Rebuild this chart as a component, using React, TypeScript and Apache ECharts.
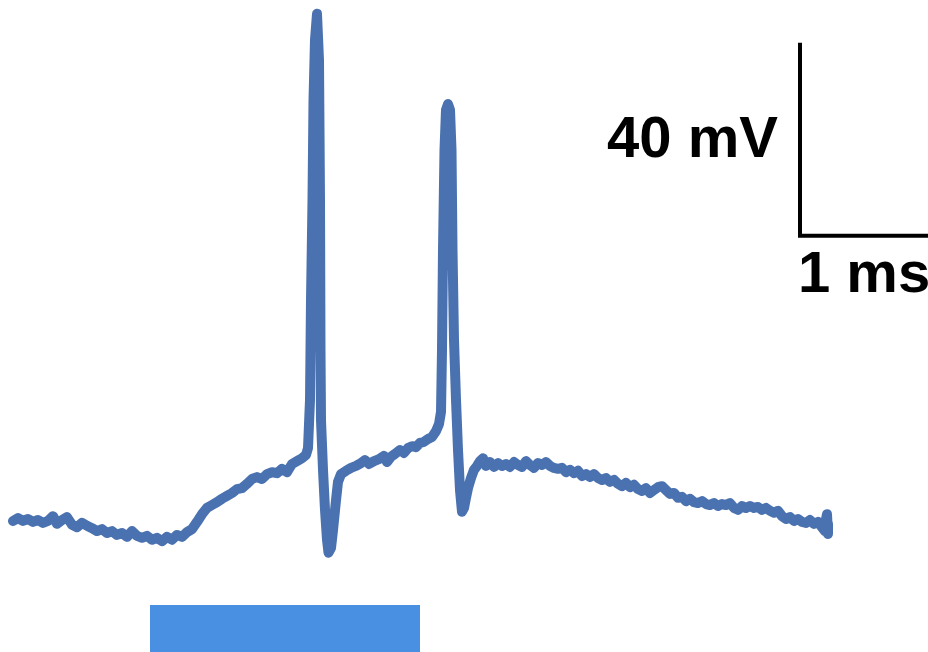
import React, { useEffect, useRef } from "react";
import * as echarts from "echarts";

// Membrane potential trace: time (ms) and voltage (mV)
const timeMs: number[] = [
  0.065, 0.09, 0.115, 0.14, 0.165, 0.19, 0.215, 0.24, 0.265, 0.285, 0.31, 0.335, 0.36, 0.385, 0.41, 0.435,
  0.46, 0.485, 0.51, 0.535, 0.56, 0.585, 0.61, 0.635, 0.66, 0.685, 0.71, 0.735, 0.76, 0.785, 0.81, 0.835,
  0.86, 0.885, 0.91, 0.935, 0.96, 0.985,
  1.01, 1.035, 1.06, 1.085, 1.11, 1.135, 1.16, 1.185, 1.21, 1.235, 1.26, 1.285, 1.31, 1.335, 1.36, 1.385,
  1.41, 1.435, 1.46, 1.485, 1.51, 1.53,
  1.54, 1.55, 1.555, 1.5625, 1.5675, 1.575, 1.585, 1.595, 1.6, 1.6025, 1.605, 1.615, 1.625, 1.635, 1.6425,
  1.655, 1.665, 1.68, 1.69, 1.705,
  1.73, 1.755, 1.78, 1.805, 1.825, 1.845, 1.87, 1.895, 1.92, 1.935, 1.955, 1.975, 2.0, 2.02, 2.04, 2.06,
  2.08, 2.1, 2.12, 2.14, 2.16, 2.18, 2.195,
  2.205, 2.21, 2.215, 2.2225, 2.23, 2.24, 2.25, 2.2575, 2.2625, 2.27, 2.28, 2.29, 2.3, 2.31, 2.32, 2.33,
  2.34, 2.355, 2.37, 2.385, 2.4,
  2.415, 2.43, 2.45, 2.47, 2.49, 2.51, 2.53, 2.55, 2.57, 2.59, 2.61, 2.63, 2.65, 2.67, 2.69, 2.71, 2.73,
  2.75, 2.77, 2.79, 2.81, 2.83, 2.85, 2.87, 2.89, 2.91, 2.93, 2.95, 2.97, 2.99, 3.01, 3.03, 3.05, 3.07,
  3.09, 3.11, 3.13, 3.15, 3.17, 3.19, 3.21, 3.23, 3.25, 3.27, 3.29, 3.31, 3.33, 3.35, 3.37, 3.39, 3.41,
  3.43, 3.45, 3.47, 3.49, 3.51, 3.53, 3.55, 3.57, 3.59, 3.61, 3.63, 3.65, 3.67, 3.69, 3.71, 3.73, 3.75,
  3.77, 3.79, 3.81, 3.83, 3.85, 3.87, 3.89, 3.91, 3.93, 3.95, 3.97, 3.99, 4.01, 4.03, 4.05, 4.07, 4.09,
  4.11, 4.125, 4.13, 4.135, 4.14, 4.14,
];

const voltageMv: number[] = [
  -65.2, -64.6, -65.2, -64.8, -65.4, -65.0, -65.6, -65.2, -64.2, -65.8, -65.0, -64.4, -66.0, -66.5, -65.6, -66.2,
  -66.7, -67.3, -66.9, -67.7, -67.3, -68.1, -67.7, -68.5, -67.3, -68.3, -68.7, -68.3, -69.1, -68.7, -69.4, -68.5,
  -69.1, -68.1, -68.5, -67.5, -66.9, -65.4,
  -63.8, -62.5, -61.9, -61.3, -60.6, -60.0, -59.4, -58.6, -58.4, -57.5, -56.5, -56.1, -56.5, -55.5, -55.1, -55.3,
  -54.4, -55.1, -53.4, -52.8, -52.2, -51.5,
  -50.1, -40.1, -19.4, 1.3, 22.0, 34.5, 39.9, 30.3, 1.3, -29.8, -44.3, -54.6, -62.9, -69.1, -71.8,
  -70.8, -67.1, -60.9, -57.1, -55.5,
  -54.8, -54.2, -53.8, -53.2, -52.6, -53.4, -52.8, -52.4, -51.7, -53.0, -51.9, -51.3, -50.5, -51.1, -50.1, -49.7,
  -49.9, -49.0, -48.8, -48.2, -47.8, -46.6, -45.1,
  -42.6, -29.8, -9.0, 11.7, 20.0, 21.2, 20.0, 11.7, -9.0, -27.7, -40.1, -50.5, -58.8, -63.3, -62.5, -60.4,
  -58.4, -56.3, -54.6, -53.8, -52.8,
  -52.2, -53.8, -53.0, -54.0, -53.2, -53.8, -53.4, -54.0, -53.0, -53.6, -54.0, -52.8, -53.6, -54.2, -53.2, -53.6, -53.0,
  -53.8, -54.2, -54.4, -54.2, -55.1, -54.6, -55.3, -54.8, -55.9, -55.5, -56.1, -55.5, -56.3, -56.7, -56.3, -57.1, -56.7,
  -57.5, -58.0, -57.3, -58.2, -57.7, -58.6, -59.0, -58.4, -59.4, -58.8, -58.2, -58.0, -58.8, -59.6, -59.4, -60.4, -60.2,
  -61.1, -60.6, -61.3, -61.5, -61.1, -61.7, -61.9, -61.5, -62.1, -61.7, -61.9, -61.5, -62.5, -62.9, -62.1, -62.5, -62.1,
  -62.5, -62.3, -62.9, -62.5, -63.1, -63.5, -63.1, -64.2, -64.8, -64.4, -65.2, -64.8, -65.4, -65.6, -65.0, -65.8, -65.4,
  -66.5, -67.3, -64.8, -63.8, -67.9, -65.8,
];

// Stimulus bar (time window, ms) and its vertical extent (mV units of the plot)
const stimulusMs: number[] = [0.75, 2.1];
const stimulusMv: number[] = [-82.6, -92.36];

// Scale bar: 40 mV vertical, 1 ms horizontal
const scaleBarTimeMs: number[] = [4.0, 4.0, 5.0];
const scaleBarMv: number[] = [33.9, -6.1, -6.1];
const scaleLabels: string[] = ["40 mV", "1 ms"];

const X_MIN = 0;
const X_MAX = 4.64;
const Y_MIN = -92.36;
const Y_MAX = 42.77;

export default function App() {
  const ref = useRef<HTMLDivElement>(null);

  useEffect(() => {
    if (!ref.current) return;
    const chart = echarts.init(ref.current, undefined, { renderer: "svg" });
    const trace = timeMs.map((t, i) => [t, voltageMv[i]]);
    const scaleBar = scaleBarTimeMs.map((t, i) => [t, scaleBarMv[i]]);
    chart.setOption({
      animation: false,
      backgroundColor: "#ffffff",
      grid: { left: 0, right: 0, top: 0, bottom: 0, containLabel: false },
      xAxis: { type: "value", min: X_MIN, max: X_MAX, show: false },
      yAxis: { type: "value", min: Y_MIN, max: Y_MAX, show: false },
      series: [
        {
          type: "line",
          name: "stimulus",
          data: [],
          silent: true,
          markArea: {
            silent: true,
            itemStyle: { color: "#4a90e2", opacity: 1 },
            data: [
              [
                { coord: [stimulusMs[0], stimulusMv[0]] },
                { coord: [stimulusMs[1], stimulusMv[1]] },
              ],
            ],
          },
        },
        {
          type: "line",
          name: "Vm",
          data: trace,
          showSymbol: false,
          symbol: "none",
          smooth: false,
          lineStyle: { color: "#4b72b0", width: 10, cap: "round", join: "round" },
        },
        {
          type: "line",
          name: "scale",
          data: scaleBar,
          showSymbol: false,
          symbol: "none",
          lineStyle: { color: "#000000", width: 4, cap: "butt", join: "miter" },
        },
      ],
      graphic: [
        {
          type: "text",
          x: 778,
          y: 136,
          style: {
            text: scaleLabels[0],
            fontSize: 58,
            fontWeight: "bold",
            fontFamily: "Liberation Sans, Arial, sans-serif",
            fill: "#000000",
            align: "right",
            verticalAlign: "middle",
          },
        },
        {
          type: "text",
          x: 798,
          y: 271,
          style: {
            text: scaleLabels[1],
            fontSize: 58,
            fontWeight: "bold",
            fontFamily: "Liberation Sans, Arial, sans-serif",
            fill: "#000000",
            align: "left",
            verticalAlign: "middle",
          },
        },
      ],
    });
    return () => chart.dispose();
  }, []);

  return (
    <div
      ref={ref}
      style={{ position: "fixed", left: 0, top: 0, width: 928, height: 652 }}
    />
  );
}
